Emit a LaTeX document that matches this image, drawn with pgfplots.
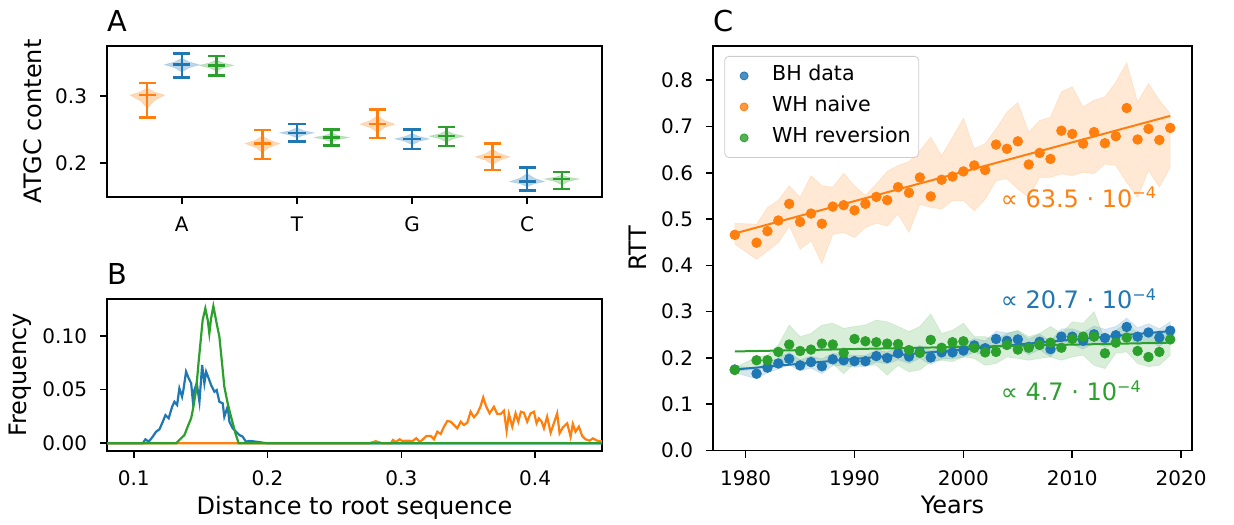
\documentclass[border=0pt]{standalone}
\usepackage{pgfplots}
\pgfplotsset{compat=1.18}
\usepackage{pgfplotstable}
\usepgfplotslibrary{fillbetween}
\usepackage{fontspec}
\setmainfont{DejaVu Sans}
\definecolor{c0}{HTML}{1F77B4}
\definecolor{c1}{HTML}{FF7F0E}
\definecolor{c2}{HTML}{2CA02C}

\pgfplotsset{
  mpl/.style={
    scale only axis,
    tick align=outside,
    xtick pos=bottom, ytick pos=left,
    major tick length=3.5pt,
    every tick/.append style={black, line width=0.8pt},
    axis line style={line width=0.8pt},
    /pgf/number format/assume math mode=true,
    tick label style={font=\fontsize{10}{12}\selectfont, inner sep=0pt},
    xticklabel style={yshift=-6.2pt},
    yticklabel style={xshift=-6.3pt},
    label style={font=\fontsize{12}{14}\selectfont, inner sep=0pt},
    xlabel style={at={(axis description cs:0.5,0)}, anchor=base, yshift=-31.5pt},
  }
}

\newcommand{\vio}[5]{%
  \pgfmathsetmacro{\xa}{#2-0.15}%
  \pgfmathsetmacro{\xb}{#2-0.06}%
  \pgfmathsetmacro{\xc}{#2+0.06}%
  \pgfmathsetmacro{\xd}{#2+0.15}%
  \pgfmathsetmacro{\ya}{#4-0.58*(#4-#3)}%
  \pgfmathsetmacro{\yb}{#4-0.25*(#4-#3)}%
  \pgfmathsetmacro{\yc}{#4+0.25*(#5-#4)}%
  \pgfmathsetmacro{\yd}{#4+0.58*(#5-#4)}%
  \pgfmathsetmacro{\ca}{#2-0.075}%
  \pgfmathsetmacro{\cb}{#2+0.075}%
  \edef\vtemp{%
    \noexpand\addplot[draw=#1, draw opacity=0.15, fill=#1, fill opacity=0.3] coordinates {(#2,\ya) (\xc,\yb) (\xd,#4) (\xc,\yc) (#2,\yd) (\xb,\yc) (\xa,#4) (\xb,\yb) (#2,\ya)};
    \noexpand\addplot[#1, line width=1.2pt] coordinates {(#2,#3) (#2,#5)};
    \noexpand\addplot[#1, line width=1.2pt] coordinates {(\ca,#3) (\cb,#3)};
    \noexpand\addplot[#1, line width=1.2pt] coordinates {(\ca,#4) (\cb,#4)};
    \noexpand\addplot[#1, line width=1.2pt] coordinates {(\ca,#5) (\cb,#5)};
  }\vtemp
}

\pgfplotstableread{
year b blo bhi o olo ohi g glo ghi
1979 0.175 0.168 0.182 0.466 0.446 0.491 0.174 0.170 0.179
1981 0.166 0.155 0.178 0.449 0.413 0.489 0.195 0.177 0.202
1982 0.179 0.168 0.190 0.474 0.431 0.525 0.195 0.181 0.206
1983 0.188 0.176 0.200 0.497 0.449 0.541 0.213 0.184 0.228
1984 0.198 0.185 0.212 0.533 0.485 0.572 0.229 0.192 0.271
1985 0.184 0.172 0.196 0.494 0.435 0.547 0.215 0.181 0.246
1986 0.191 0.178 0.204 0.512 0.453 0.594 0.218 0.188 0.253
1987 0.182 0.166 0.198 0.490 0.404 0.572 0.231 0.184 0.271
1988 0.197 0.184 0.210 0.527 0.467 0.569 0.229 0.188 0.275
1989 0.195 0.183 0.207 0.530 0.471 0.599 0.211 0.166 0.264
1990 0.193 0.180 0.206 0.519 0.460 0.572 0.241 0.188 0.268
1991 0.193 0.181 0.205 0.533 0.482 0.551 0.236 0.184 0.271
1992 0.204 0.191 0.217 0.548 0.491 0.576 0.234 0.184 0.282
1993 0.200 0.187 0.213 0.541 0.485 0.603 0.231 0.163 0.278
1994 0.210 0.196 0.224 0.569 0.511 0.616 0.230 0.184 0.268
1995 0.203 0.188 0.218 0.557 0.471 0.624 0.217 0.170 0.257
1996 0.213 0.199 0.227 0.590 0.532 0.648 0.211 0.174 0.268
1997 0.201 0.186 0.216 0.549 0.525 0.677 0.239 0.192 0.295
1998 0.212 0.198 0.226 0.585 0.522 0.637 0.222 0.195 0.253
1999 0.212 0.198 0.226 0.592 0.540 0.677 0.234 0.192 0.260
2000 0.216 0.202 0.230 0.603 0.540 0.718 0.236 0.202 0.275
2001 0.227 0.212 0.242 0.616 0.518 0.652 0.222 0.199 0.246
2002 0.221 0.205 0.237 0.606 0.543 0.663 0.212 0.184 0.246
2003 0.241 0.224 0.258 0.661 0.583 0.695 0.213 0.188 0.239
2004 0.237 0.220 0.254 0.652 0.587 0.731 0.228 0.202 0.253
2005 0.240 0.222 0.258 0.668 0.565 0.752 0.218 0.199 0.260
2006 0.224 0.207 0.241 0.618 0.547 0.688 0.222 0.195 0.246
2007 0.235 0.218 0.252 0.643 0.590 0.713 0.228 0.199 0.253
2008 0.219 0.202 0.236 0.630 0.590 0.720 0.233 0.202 0.268
2009 0.246 0.229 0.263 0.691 0.598 0.775 0.222 0.195 0.253
2010 0.246 0.229 0.263 0.684 0.594 0.786 0.241 0.202 0.278
2011 0.237 0.219 0.255 0.663 0.601 0.742 0.246 0.206 0.275
2012 0.251 0.233 0.269 0.688 0.598 0.757 0.246 0.184 0.300
2013 0.243 0.224 0.262 0.664 0.619 0.764 0.210 0.177 0.239
2014 0.249 0.230 0.268 0.679 0.616 0.796 0.233 0.210 0.260
2015 0.267 0.248 0.286 0.740 0.579 0.838 0.244 0.213 0.275
2016 0.246 0.227 0.265 0.672 0.547 0.753 0.215 0.188 0.253
2017 0.255 0.236 0.274 0.695 0.605 0.793 0.202 0.181 0.246
2018 0.244 0.225 0.263 0.671 0.569 0.757 0.213 0.184 0.260
2019 0.259 0.240 0.278 0.697 0.612 0.728 0.240 0.206 0.249
}\rtt

\begin{document}
\begin{tikzpicture}
\path (0,0) rectangle (617pt,262pt);

% ---------------- Panel A ----------------
\begin{axis}[mpl, name=pA, at={(53.5pt,163.5pt)}, anchor=south west,
  width=247.5pt, height=75.5pt,
  xmin=-0.65, xmax=3.65, ymin=0.149, ymax=0.375,
  xtick={0,1,2,3}, xticklabels={A,T,G,C},
  ytick={0.2,0.3},
  yticklabel style={/pgf/number format/fixed, /pgf/number format/fixed zerofill, /pgf/number format/precision=1},
  ylabel={ATGC content},
  ylabel style={at={(axis description cs:-0.132,0.5)}, anchor=base},
]
\vio{c1}{-0.3}{0.268}{0.3015}{0.320}
\vio{c0}{0}{0.328}{0.347}{0.364}
\vio{c2}{0.3}{0.331}{0.346}{0.360}
\vio{c1}{0.7}{0.206}{0.229}{0.249}
\vio{c0}{1}{0.232}{0.245}{0.258}
\vio{c2}{1.3}{0.226}{0.238}{0.250}
\vio{c1}{1.7}{0.237}{0.258}{0.280}
\vio{c0}{2}{0.221}{0.236}{0.250}
\vio{c2}{2.3}{0.225}{0.240}{0.254}
\vio{c1}{2.7}{0.189}{0.209}{0.229}
\vio{c0}{3}{0.159}{0.172}{0.193}
\vio{c2}{3.3}{0.161}{0.176}{0.186}
\end{axis}
\node[anchor=base west, inner sep=0pt, font=\fontsize{14.4}{17}\selectfont] at ([yshift=7.2pt]pA.north west) {A};

% ---------------- Panel B ----------------
\begin{axis}[mpl, name=pB, at={(53.5pt,36.5pt)}, anchor=south west,
  width=247.5pt, height=76pt,
  xmin=0.08, xmax=0.45, ymin=-0.0072, ymax=0.1345,
  xtick={0.1,0.2,0.3,0.4}, ytick={0,0.05,0.1},
  xticklabel style={/pgf/number format/fixed, /pgf/number format/fixed zerofill, /pgf/number format/precision=1},
  yticklabel style={/pgf/number format/fixed, /pgf/number format/fixed zerofill, /pgf/number format/precision=2},
  xlabel={Distance to root sequence},
  ylabel={Frequency},
  ylabel style={at={(axis description cs:-0.1624,0.5)}, anchor=base},
]
\addplot[c0, line width=1.1pt] coordinates {
(0.07,0) (0.1067,0) (0.1087,0.0037) (0.1112,0.0015) (0.1142,0.0062) (0.1167,0.0108)
(0.1192,0.0130) (0.1217,0.0201) (0.1237,0.0263) (0.1261,0.0233) (0.1287,0.0341)
(0.1304,0.0387) (0.1324,0.0357) (0.1341,0.0512) (0.1361,0.0434) (0.1371,0.0496)
(0.1391,0.0667) (0.1411,0.0605) (0.1429,0.0559) (0.1441,0.0403) (0.1453,0.0496)
(0.1471,0.0559) (0.1491,0.0387) (0.1511,0.0729) (0.1528,0.0559) (0.1541,0.0667)
(0.1560,0.0605) (0.1578,0.0543) (0.1603,0.0480) (0.1620,0.0496) (0.1640,0.0387)
(0.1665,0.0372) (0.1677,0.0248) (0.1702,0.0341) (0.1715,0.0201) (0.1739,0.0140)
(0.1765,0.0108) (0.1789,0.0077) (0.1814,0.0062) (0.1839,0.0015) (0.1864,0.0022)
(0.1914,0.0015) (0.1963,0.0006) (0.2000,0) (0.46,0)};
\addplot[c1, line width=1.1pt] coordinates {
(0.07,0) (0.2759,0) (0.2809,0.0019) (0.2858,0) (0.2921,0) (0.2938,0.0031) (0.2958,0.0012)
(0.2988,0.0037) (0.3007,0.0021) (0.3033,0.0024) (0.3058,0.0024) (0.3082,0.0019)
(0.3112,0.0047) (0.3137,0.0015) (0.3157,0.0031) (0.3187,0.0068) (0.3220,0.0068)
(0.3244,0.0037) (0.3269,0.0108) (0.3294,0.0087) (0.3319,0.0155) (0.3344,0.0208)
(0.3369,0.0201) (0.3394,0.0170) (0.3418,0.0140) (0.3444,0.0201) (0.3468,0.0170)
(0.3493,0.0192) (0.3518,0.0294) (0.3543,0.0242) (0.3568,0.0279) (0.3593,0.0347)
(0.3612,0.0428) (0.3635,0.0341) (0.3660,0.0279) (0.3692,0.0341) (0.3717,0.0273)
(0.3742,0.0273) (0.3767,0.0304) (0.3787,0.0117) (0.3804,0.0273) (0.3829,0.0155)
(0.3854,0.0279) (0.3874,0.0201) (0.3894,0.0294) (0.3916,0.0285) (0.3941,0.0201)
(0.3966,0.0279) (0.3991,0.0294) (0.4011,0.0186) (0.4028,0.0232) (0.4049,0.0201)
(0.4066,0.0140) (0.4090,0.0248) (0.4116,0.0099) (0.4140,0.0186) (0.4165,0.0279)
(0.4183,0.0093) (0.4208,0.0149) (0.4240,0.0186) (0.4265,0.0061) (0.4282,0.0180)
(0.4302,0.0108) (0.4327,0.0155) (0.4352,0.0068) (0.4377,0.0037) (0.4407,0.0024)
(0.4432,0.0046) (0.4464,0.0024) (0.4494,0.0019) (0.46,0.0010)};
\addplot[c2, line width=1.1pt] coordinates {
(0.07,0) (0.1317,0) (0.1341,0.0031) (0.1379,0.0077) (0.1403,0.0155) (0.1429,0.0233)
(0.1446,0.0341) (0.1466,0.0496) (0.1485,0.0760) (0.1503,0.0993) (0.1515,0.1148)
(0.1535,0.1257) (0.1553,0.1148) (0.1565,0.1024) (0.1578,0.1164) (0.1595,0.1278)
(0.1615,0.1148) (0.1640,0.0993) (0.1660,0.0745) (0.1677,0.0527) (0.1702,0.0372)
(0.1727,0.0248) (0.1760,0.0093) (0.1784,0) (0.46,0)};
\end{axis}
\node[anchor=base west, inner sep=0pt, font=\fontsize{14.4}{17}\selectfont] at ([yshift=7.2pt]pB.north west) {B};

% ---------------- Panel C ----------------
\begin{axis}[mpl, name=pC, at={(356.5pt,36.75pt)}, anchor=south west,
  width=239.5pt, height=202.25pt,
  xmin=1977, xmax=2021, ymin=0, ymax=0.874,
  xtick={1980,1990,2000,2010,2020},
  ytick={0,0.1,0.2,0.3,0.4,0.5,0.6,0.7,0.8},
  xticklabel style={/pgf/number format/1000 sep={}},
  yticklabel style={/pgf/number format/fixed, /pgf/number format/fixed zerofill, /pgf/number format/precision=1},
  xlabel={Years}, ylabel={RTT},
  ylabel style={at={(axis description cs:-0.1386,0.5)}, anchor=base},
  legend cell align=left,
  legend image code/.code={\path (0pt,0pt) (19.3pt,0pt); \draw[mark repeat=2, mark phase=2, #1, mark size=2pt] plot coordinates {(0pt,0pt) (5.5pt,0pt) (11pt,0pt)};},
  legend style={at={(0.0236,0.9753)}, anchor=north west, draw=black!20, rounded corners=2pt,
    fill=white, fill opacity=0.8, text opacity=1, font=\fontsize{10.3}{12}\selectfont,
    inner xsep=4pt, inner ysep=4.75pt, row sep=5.5pt,
    nodes={inner sep=0pt, text height=7.5pt, text depth=2.5pt}},
]
% blue
\addplot[name path=bhi, draw=none, forget plot] table[x=year, y=bhi]{\rtt};
\addplot[name path=blo, draw=none, forget plot] table[x=year, y=blo]{\rtt};
\addplot[fill=c0, fill opacity=0.18, draw=c0, draw opacity=0.12, forget plot] fill between[of=bhi and blo];
\addplot[only marks, mark=*, mark size=2.4pt, c0, mark options={draw=c0, fill=c0}] table[x=year, y=b]{\rtt};
\addlegendentry{BH data}
% orange
\addplot[name path=ohi, draw=none, forget plot] table[x=year, y=ohi]{\rtt};
\addplot[name path=olo, draw=none, forget plot] table[x=year, y=olo]{\rtt};
\addplot[fill=c1, fill opacity=0.18, draw=c1, draw opacity=0.12, forget plot] fill between[of=ohi and olo];
\addplot[only marks, mark=*, mark size=2.4pt, c1, mark options={draw=c1, fill=c1}] table[x=year, y=o]{\rtt};
\addlegendentry{WH naive}
% green
\addplot[name path=ghi, draw=none, forget plot] table[x=year, y=ghi]{\rtt};
\addplot[name path=glo, draw=none, forget plot] table[x=year, y=glo]{\rtt};
\addplot[fill=c2, fill opacity=0.18, draw=c2, draw opacity=0.12, forget plot] fill between[of=ghi and glo];
\addplot[only marks, mark=*, mark size=2.4pt, c2, mark options={draw=c2, fill=c2}] table[x=year, y=g]{\rtt};
\addlegendentry{WH reversion}
% fits
\addplot[c0, line width=1pt, forget plot] coordinates {(1979,0.175) (2019,0.258)};
\addplot[c1, line width=1pt, forget plot] coordinates {(1979,0.469) (2019,0.723)};
\addplot[c2, line width=1pt, forget plot] coordinates {(1979,0.214) (2019,0.233)};
\node[c1, anchor=base west, inner sep=0pt, font=\fontsize{12}{14}\selectfont] at (axis cs:2003.4,0.525) {∝ 63.5 · 10\textsuperscript{−4}};
\node[c0, anchor=base west, inner sep=0pt, font=\fontsize{12}{14}\selectfont] at (axis cs:2003.4,0.306) {∝ 20.7 · 10\textsuperscript{−4}};
\node[c2, anchor=base west, inner sep=0pt, font=\fontsize{12}{14}\selectfont] at (axis cs:2003.4,0.107) {∝ 4.7 · 10\textsuperscript{−4}};
\end{axis}
\node[anchor=base west, inner sep=0pt, font=\fontsize{14.4}{17}\selectfont] at ([yshift=7.2pt]pC.north west) {C};
\end{tikzpicture}
\end{document}
